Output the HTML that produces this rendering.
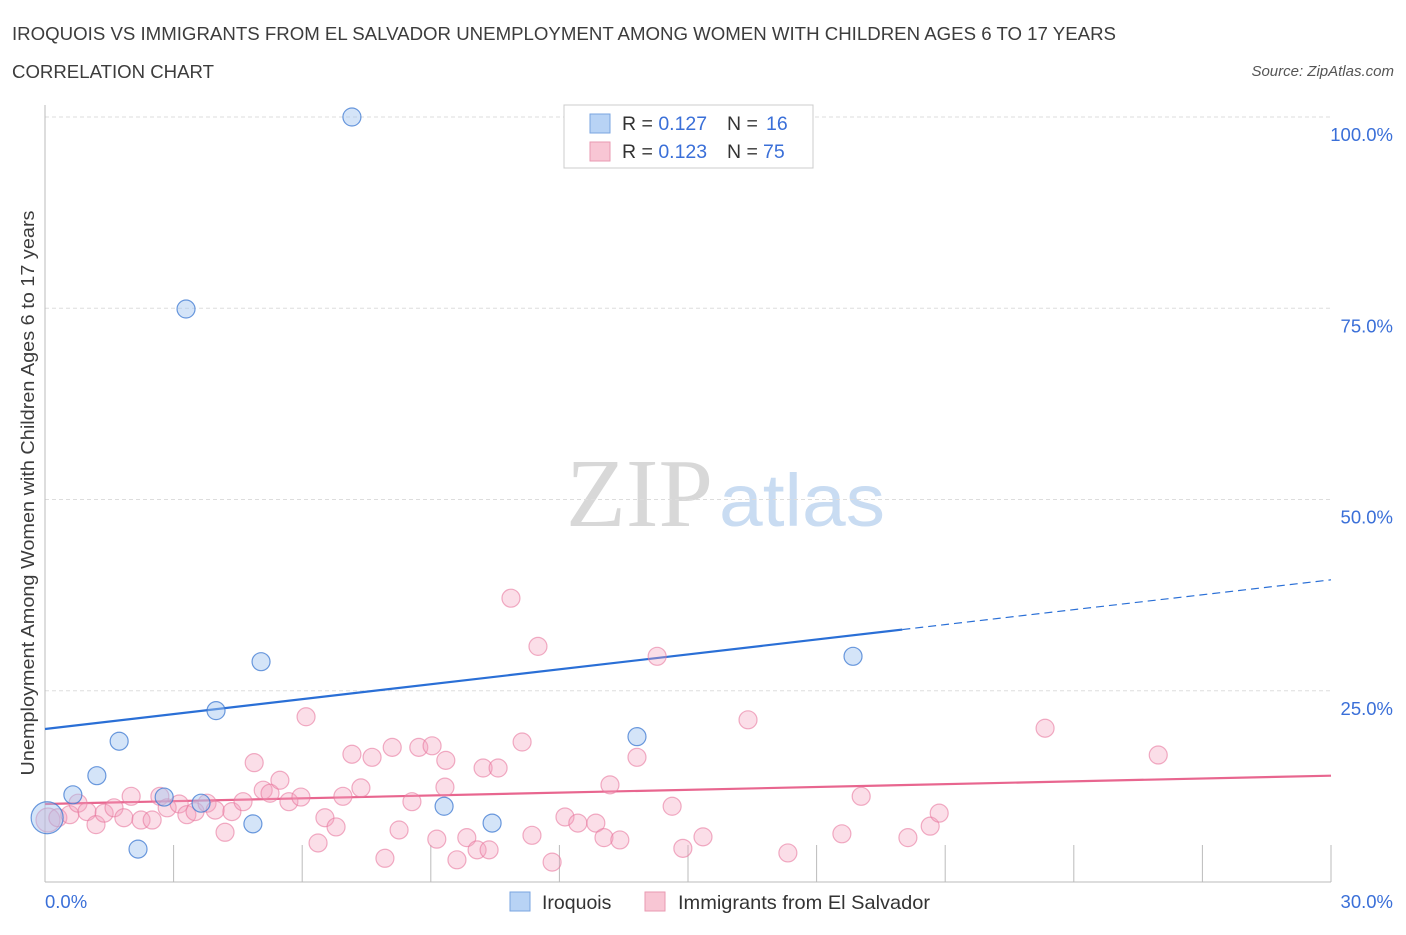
<!DOCTYPE html>
<html><head><meta charset="utf-8"><style>
body{margin:0;background:#fff;font-family:"Liberation Sans",sans-serif;}
svg text{font-family:"Liberation Sans",sans-serif;}
</style></head><body>
<svg id="chart" width="1406" height="930">
<text x="12" y="40" font-size="18" fill="#3c3c3c" textLength="1104" lengthAdjust="spacingAndGlyphs">IROQUOIS VS IMMIGRANTS FROM EL SALVADOR UNEMPLOYMENT AMONG WOMEN WITH CHILDREN AGES 6 TO 17 YEARS</text>
<text x="12" y="78" font-size="18" fill="#3c3c3c" textLength="202" lengthAdjust="spacingAndGlyphs">CORRELATION CHART</text>
<text x="1394" y="76" font-size="15" fill="#555" font-style="italic" text-anchor="end">Source: ZipAtlas.com</text>
<text x="713" y="526" font-size="98" fill="#d8d8d8" text-anchor="end" style="font-family:'Liberation Serif',serif">ZIP</text>
<text x="719" y="526" font-size="74" fill="#c9dcf2" textLength="166" lengthAdjust="spacingAndGlyphs">atlas</text>
<text transform="translate(34,493) rotate(-90)" font-size="18" fill="#3c3c3c" text-anchor="middle" textLength="565" lengthAdjust="spacingAndGlyphs">Unemployment Among Women with Children Ages 6 to 17 years</text>
<g id="grid"></g><g id="axes"></g><g id="trends"></g><g id="points"></g>
<g>
<rect x="564" y="105" width="249" height="63" fill="#fff" stroke="#ccc"/>
<rect x="590" y="114" width="20" height="19" fill="#b8d3f5" stroke="#7aa5e0"/>
<rect x="590" y="142" width="20" height="19" fill="#f8c6d4" stroke="#e99ab2"/>
<text x="622" y="130" font-size="19.5" fill="#333">R = <tspan fill="#3a6fd8">0.127</tspan></text>
<text x="727" y="130" font-size="19.5" fill="#333">N = </text><text x="766" y="130" font-size="19.5" fill="#3a6fd8">16</text>
<text x="622" y="158" font-size="19.5" fill="#333">R = <tspan fill="#3a6fd8">0.123</tspan></text>
<text x="727" y="158" font-size="19.5" fill="#333">N = </text><text x="763" y="158" font-size="19.5" fill="#3a6fd8">75</text>
</g>
<g>
<rect x="510" y="892" width="20" height="19" fill="#b8d3f5" stroke="#7aa5e0"/>
<text x="542" y="909" font-size="19.5" fill="#333">Iroquois</text>
<rect x="645" y="892" width="20" height="19" fill="#f8c6d4" stroke="#e99ab2"/>
<text x="678" y="909" font-size="19.5" fill="#333" textLength="252" lengthAdjust="spacingAndGlyphs">Immigrants from El Salvador</text>
</g>
</svg>
<script>
const xTickLabels=["0.0%","30.0%"];
const yTicks=[25,50,75,100];
const yTickLabels=["25.0%","50.0%","75.0%","100.0%"];
const iroquoisX=[0.05,0.65,1.21,1.73,2.17,2.78,3.64,3.99,4.85,5.04,3.29,7.16,9.31,10.43,13.81,18.85];
const iroquoisY=[8.4,11.4,13.9,18.4,4.3,11.1,10.3,22.4,7.6,28.8,74.9,100,9.9,7.7,19.0,29.5];
const salvX=[0.07,0.30,0.58,0.77,0.98,1.19,1.38,1.61,1.84,2.01,2.24,2.50,2.68,2.85,3.13,3.31,3.50,3.78,3.97,4.20,4.36,4.62,4.88,5.09,5.25,5.48,5.69,5.97,6.09,6.53,6.37,6.79,7.16,6.95,7.37,7.63,7.93,8.10,8.26,8.56,8.72,9.03,9.14,9.33,9.35,9.61,9.84,10.08,10.22,10.36,10.57,10.87,11.13,11.36,11.50,11.83,12.13,12.43,12.85,13.04,13.18,13.41,13.81,14.28,14.63,14.88,15.35,16.40,17.33,18.59,19.04,20.13,20.65,20.86,23.33,25.97];
const salvY=[8.1,8.4,8.8,10.3,9.2,7.5,9.0,9.7,8.4,11.2,8.1,8.1,11.2,9.7,10.2,8.8,9.2,10.3,9.4,6.5,9.2,10.5,15.6,12.0,11.6,13.3,10.5,11.1,21.6,8.4,5.1,7.2,16.7,11.2,12.3,16.3,3.1,17.6,6.8,10.5,17.6,17.8,5.6,12.4,15.9,2.9,5.8,4.2,14.9,4.2,14.9,37.1,18.3,6.1,30.8,2.6,8.5,7.7,7.7,5.8,12.7,5.5,16.3,29.5,9.9,4.4,5.9,21.2,3.8,6.3,11.2,5.8,7.3,9.0,20.1,16.6];
const iroTrend=[20.0,39.5];
const salvTrend=[10.2,13.9];
const X=v=>45+v/30*1286, Y=v=>882-v*7.65;
const NS="http://www.w3.org/2000/svg";
function mk(t,a,p){const e=document.createElementNS(NS,t);for(const k in a)e.setAttribute(k,a[k]);document.getElementById(p).appendChild(e);return e;}
yTicks.forEach((t,i)=>{
 const g=mk('line',{x1:45,x2:1331,y1:Y(t),y2:Y(t),stroke:'#ddd','stroke-dasharray':'4,3'},'grid');
 
 
 const l=mk('text',{x:1393,y:Y(t)+24,'font-size':18.5,fill:'#3a6fd8','text-anchor':'end'},'grid');l.textContent=yTickLabels[i];
 
 
});
mk('line',{x1:45,x2:45,y1:105,y2:882,stroke:'#bbb'},'axes');
mk('line',{x1:45,x2:1331,y1:882,y2:882,stroke:'#bbb'},'axes');
for(let i=1;i<=10;i++){const t=mk('line',{x1:X(i*3),x2:X(i*3),y1:845,y2:882,stroke:'#bbb'},'axes');
 
 }
const a=mk('text',{x:45,y:908,'font-size':18.5,fill:'#3a6fd8'},'axes');a.textContent=xTickLabels[0];


const b=mk('text',{x:1393,y:908,'font-size':18.5,fill:'#3a6fd8','text-anchor':'end'},'axes');b.textContent=xTickLabels[1];


const at=(tr,x)=>tr[0]+(tr[1]-tr[0])*x/30;
let l1=mk('line',{x1:X(0),y1:Y(at(iroTrend,0)),x2:X(20),y2:Y(at(iroTrend,20)),stroke:'#2a6fd6','stroke-width':2.2},'trends');


let l2=mk('line',{x1:X(20),y1:Y(at(iroTrend,20)),x2:X(30),y2:Y(at(iroTrend,30)),stroke:'#2a6fd6','stroke-width':1.2,'stroke-dasharray':'8,5'},'trends');


let l3=mk('line',{x1:X(0),y1:Y(at(salvTrend,0)),x2:X(30),y2:Y(at(salvTrend,30)),stroke:'#e8668f','stroke-width':2.2},'trends');


salvX.forEach((x,i)=>{const c=mk('circle',{cx:X(x),cy:Y(salvY[i]),r:i==0?12:9,fill:'rgba(244,160,188,0.35)',stroke:'rgba(232,120,158,0.6)','stroke-width':1.2},'points');
 
 });
iroquoisX.forEach((x,i)=>{const c=mk('circle',{cx:X(x),cy:Y(iroquoisY[i]),r:i==0?16:9,fill:'rgba(160,196,240,0.45)',stroke:'rgba(60,120,210,0.75)','stroke-width':1.2},'points');
 
 });
</script>
</body></html>
